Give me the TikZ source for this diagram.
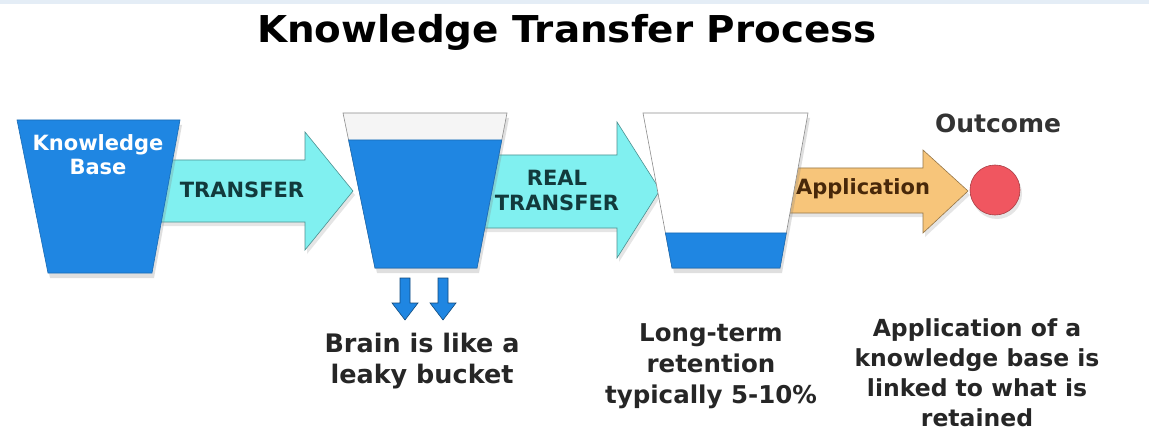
\documentclass[tikz,border=0pt]{standalone}
\usepackage{fontspec}
\setmainfont{DejaVu Sans}
\usetikzlibrary{calc,positioning,shadows}

\definecolor{bucketblue}{RGB}{31,134,226}
\definecolor{transfercyan}{RGB}{128,240,240}
\definecolor{applyorange}{RGB}{247,197,122}
\definecolor{outcomered}{RGB}{240,86,96}
\definecolor{darkteal}{RGB}{18,58,60}
\definecolor{darkbrown}{RGB}{72,40,10}
\definecolor{topstrip}{RGB}{228,237,246}

\tikzset{
bucket/.style={
  fill=white,
  draw=black!45,
  line width=0.6pt,
  drop shadow={opacity=0.25,shadow xshift=2pt,shadow yshift=-5pt}
  },
water/.style={
  fill=bucketblue,
  draw=bucketblue!80!black,
  line width=0.6pt
  },
blockarrow/.style={
  line width=0.6pt,
  drop shadow={opacity=0.2,shadow xshift=2pt,shadow yshift=-4pt}
  },
arrowtext/.style={
  font=\bfseries\fontsize{21}{25}\selectfont,
  align=center
  },
caption/.style={
  font=\bfseries\fontsize{25}{31}\selectfont,
  align=center,
  text=black!85
  }
}

\begin{document}
\begin{tikzpicture}[x=1pt,y=-1pt]
    \useasboundingbox (0,0) rectangle (1149,433);
    \fill[white] (0,0) rectangle (1149,433);
    \fill[topstrip] (0,0) rectangle (1149,4);

    % title
    \node[font=\bfseries\fontsize{37}{42}\selectfont, xscale=1.05] (title) at (567,32) {Knowledge Transfer Process};

    % transfer arrows
    \draw[blockarrow, fill=transfercyan, draw=transfercyan!60!black]
      (160,160) -- (305,160) -- (305,132) -- (353,191) -- (305,250) -- (305,222) -- (160,222) -- cycle;
    \draw[blockarrow, fill=transfercyan, draw=transfercyan!60!black]
      (478,155) -- (617,155) -- (617,122) -- (660,190) -- (617,258) -- (617,228) -- (478,228) -- cycle;
    \draw[blockarrow, fill=applyorange, draw=applyorange!60!black]
      (783,168) -- (923,168) -- (923,150) -- (968,191) -- (923,233) -- (923,213) -- (783,213) -- cycle;

    % knowledge base
    \coordinate (kb_tl) at (17,120);
    \coordinate (kb_tr) at (180,120);
    \coordinate (kb_br) at (152,273);
    \coordinate (kb_bl) at (48,273);
    \draw[bucket, water] (kb_tl) -- (kb_tr) -- (kb_br) -- (kb_bl) -- cycle;

    % leaky bucket
    \coordinate (lb_tl) at (343,113);
    \coordinate (lb_tr) at (507,113);
    \coordinate (lb_br) at (477,268);
    \coordinate (lb_bl) at (375,268);
    \draw[bucket, fill=black!4] (lb_tl) -- (lb_tr) -- (lb_br) -- (lb_bl) -- cycle;
    \draw[water] ($(lb_tl)!0.174!(lb_bl)$) -- ($(lb_tr)!0.174!(lb_br)$) -- (lb_br) -- (lb_bl) -- cycle;

    % long-term bucket
    \coordinate (lt_tl) at (643,113);
    \coordinate (lt_tr) at (808,113);
    \coordinate (lt_br) at (780,268);
    \coordinate (lt_bl) at (672,268);
    \draw[bucket] (lt_tl) -- (lt_tr) -- (lt_br) -- (lt_bl) -- cycle;
    \draw[water] ($(lt_tl)!0.774!(lt_bl)$) -- ($(lt_tr)!0.774!(lt_br)$) -- (lt_br) -- (lt_bl) -- cycle;

    % leaks
    \foreach \lx in {405,443} {
      \draw[water, draw=bucketblue!55!black]
        (\lx-5,278) -- (\lx+5,278) -- (\lx+5,303) -- (\lx+13,303) -- (\lx,320)
        -- (\lx-13,303) -- (\lx-5,303) -- cycle;
    }

    % outcome
    \node[circle, minimum size=50pt, fill=outcomered, draw=outcomered!70!black, line width=0.6pt,
      drop shadow={opacity=0.2,shadow xshift=2pt,shadow yshift=-4pt}] (outcome) at (995,190) {};
    \node[font=\bfseries\fontsize{25}{30}\selectfont, text=black!80] (outcome_lbl) at (998,123) {Outcome};

    % arrow and bucket labels
    \node[arrowtext, text=white, font=\bfseries\fontsize{21}{24}\selectfont] (kb_lbl) at (98,155) {Knowledge\\Base};
    \node[arrowtext, text=darkteal] (tr_lbl) at (242,190) {TRANSFER};
    \node[arrowtext, text=darkteal] (rtr_lbl) at (557,190) {REAL\\TRANSFER};
    \node[arrowtext, text=darkbrown] (app_lbl) at (863,189) {Application};

    % captions
    \node[caption, font=\bfseries\fontsize{25.5}{31}\selectfont] (leak_txt) at (422,361) {Brain is like a\\leaky bucket};
    \node[caption, font=\bfseries\fontsize{24.5}{31}\selectfont] (ret_txt) at (711,366) {Long-term\\retention\\typically 5-10\%};
    \node[caption, font=\bfseries\fontsize{23.5}{30}\selectfont] (app_txt) at (977,373) {Application of a\\knowledge base is\\linked to what is\\retained};
  \end{tikzpicture}
\end{document}
